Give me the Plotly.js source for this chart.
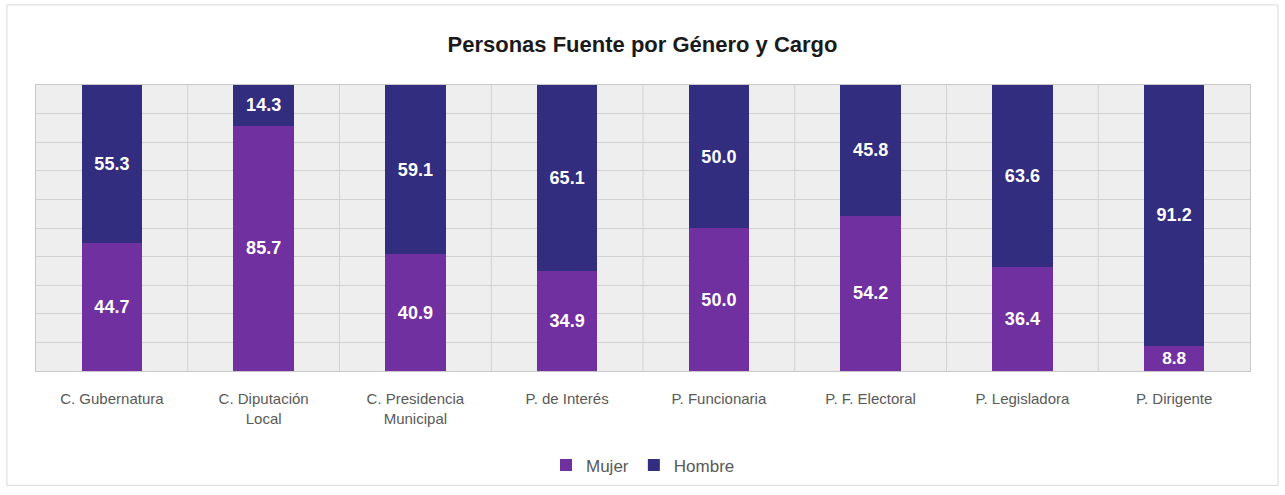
<!DOCTYPE html>
<html><head><meta charset="utf-8">
<script src="https://cdn.plot.ly/plotly-3.0.1.min.js"></script>
<style>body{margin:0;background:#fff}#c{width:1285px;height:495px}</style>
</head><body><div id="c"></div>
<script>
const categories = ["C. Gubernatura","C. Diputación<br>Local","C. Presidencia<br>Municipal","P. de Interés","P. Funcionaria","P. F. Electoral","P. Legisladora","P. Dirigente"];
const mujer = [44.7, 85.7, 40.9, 34.9, 50.0, 54.2, 36.4, 8.8];
const hombre = [55.3, 14.3, 59.1, 65.1, 50.0, 45.8, 63.6, 91.2];
const labelFont = {family:"Liberation Sans, Arial, sans-serif", size:18, color:"#ffffff", weight:"bold"};
const fmt = v => v.toFixed(1);
const traces = [
  {type:"bar", name:"Mujer", x:categories, y:mujer, text:mujer.map(fmt), textposition:"inside", insidetextanchor:"middle",
   textfont:labelFont, marker:{color:"#7030A0"}, width:0.4, hoverinfo:"skip"},
  {type:"bar", name:"Hombre", x:categories, y:hombre, text:hombre.map(fmt), textposition:"inside", insidetextanchor:"middle",
   textfont:labelFont, marker:{color:"#322D7E"}, width:0.4, hoverinfo:"skip"}
];
const layout = {
  width:1285, height:495, barmode:"stack",
  margin:{l:36, r:35, t:85, b:124},
  paper_bgcolor:"#ffffff", plot_bgcolor:"#eeeeee",
  title:{text:"<b>Personas Fuente por Género y Cargo</b>", x:0.5, xanchor:"center", y:0.91, yanchor:"middle",
         font:{family:"Liberation Sans, Arial, sans-serif", size:22, color:"#1a1a1a"}},
  xaxis:{showgrid:false, tickfont:{family:"Liberation Sans, Arial, sans-serif", size:15, color:"#595959"},
         ticks:"", ticklabelstandoff:14, showline:true, linecolor:"#c8c8c8", mirror:true},
  yaxis:{range:[0,100], dtick:10, showticklabels:false, gridcolor:"#d2d2d2", zeroline:false,
         showline:true, linecolor:"#c8c8c8", mirror:true, fixedrange:true},
  legend:{orientation:"h", x:0.5, xanchor:"center", y:-0.33, yanchor:"middle",
          font:{family:"Liberation Sans, Arial, sans-serif", size:17, color:"#595959"}, itemwidth:30, traceorder:"normal"},
  shapes:[
    {type:"rect", xref:"paper", yref:"paper", x0:-0.024, x1:1.023, y0:-0.40, y1:1.28, line:{color:"#d9d9d9", width:1}},
  ].concat(categories.slice(1).map((c,i)=>({type:"line", xref:"x", yref:"paper", x0:i+0.5, x1:i+0.5, y0:0, y1:1, line:{color:"#d2d2d2", width:1}, layer:"below"})))
};
Plotly.newPlot("c", traces, layout, {displayModeBar:false, staticPlot:true});
</script></body></html>
